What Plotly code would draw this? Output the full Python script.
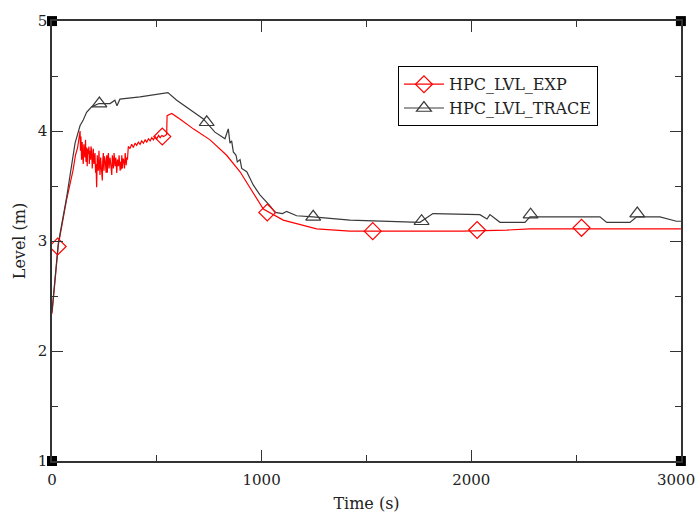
import plotly.graph_objects as go

# ---- data ----
trace_x = [0, 30, 70, 102, 110, 134, 149, 165, 189, 224, 277, 300, 310, 324, 420, 553,
           595, 722, 777, 809, 825, 841, 849, 857, 865, 878, 884, 897, 905, 929, 960, 992,
           1040, 1064, 1100, 1119, 1167, 1245, 1421, 1755, 1817, 2041, 2075, 2089, 2137,
           2256, 2280, 2614, 2646, 2757, 2789, 2900, 2979, 3000]
trace_y = [2.36, 2.98, 3.40, 3.78, 3.89, 4.05, 4.10, 4.17, 4.22, 4.25, 4.25, 4.28, 4.23, 4.29, 4.31, 4.35,
           4.28, 4.11, 3.99, 3.95, 3.93, 4.02, 3.89, 3.91, 3.81, 3.78, 3.72, 3.74, 3.66, 3.63, 3.51, 3.42,
           3.32, 3.26, 3.25, 3.27, 3.23, 3.22, 3.19, 3.17, 3.25, 3.24, 3.20, 3.24, 3.17,
           3.17, 3.22, 3.22, 3.17, 3.17, 3.22, 3.22, 3.18, 3.18]
trace_mx = [226, 738, 1246, 1763, 2283, 2792]
trace_my = [4.25, 4.08, 3.22, 3.18, 3.24, 3.25]

exp_x = [0, 30, 70, 100, 112, 122, 134,
         136, 138, 141, 144, 146, 149, 152, 154, 157, 160, 162, 165, 168, 170, 173, 176, 178, 181,
         184, 186, 189, 192, 194, 197, 200, 202, 205, 208, 210, 213, 216, 218, 221, 224, 226, 229,
         232, 234, 237, 240, 242, 245, 248, 250, 253, 256, 258, 261, 264, 266, 269, 272, 274, 277,
         280, 282, 285, 288, 290, 293, 296, 298, 301, 304, 306, 309, 312, 314, 317, 320, 322, 325,
         328, 330, 333, 336, 338, 341, 344, 346, 349, 352, 354, 357, 360,
         364, 372, 380, 388, 396, 404, 412, 420, 428, 436, 444, 452, 460, 468, 476, 484,
         492, 500, 508, 516, 524, 532, 540, 547, 549, 571,
         610, 674, 754, 833, 897, 936, 976, 1008, 1103, 1262, 1421, 1700, 1960, 2169,
         2280, 2600, 3000]
exp_y = [2.34, 2.96, 3.38, 3.64, 3.78, 3.85, 4.00,
         3.82, 3.95, 3.74, 3.90, 3.78, 3.70, 3.88, 3.80, 3.76, 3.92, 3.72, 3.85, 3.68, 3.84, 3.79, 3.86, 3.70, 3.82,
         3.74, 3.86, 3.82, 3.66, 3.78, 3.84, 3.70, 3.77, 3.80, 3.62, 3.70, 3.49, 3.78, 3.66, 3.64, 3.82, 3.71, 3.60,
         3.76, 3.69, 3.66, 3.55, 3.73, 3.80, 3.64, 3.77, 3.74, 3.68, 3.62, 3.78, 3.62, 3.75, 3.80, 3.66, 3.71, 3.76,
         3.70, 3.64, 3.60, 3.78, 3.70, 3.66, 3.80, 3.69, 3.68, 3.76, 3.63, 3.62, 3.74, 3.70, 3.68, 3.78, 3.71, 3.64,
         3.72, 3.65, 3.78, 3.66, 3.75, 3.74, 3.70, 3.66, 3.80, 3.72, 3.69, 3.76, 3.74,
         3.86, 3.84, 3.88, 3.85, 3.89, 3.87, 3.90, 3.88, 3.91, 3.89, 3.92, 3.90, 3.93, 3.91, 3.94, 3.92,
         3.95, 3.93, 3.96, 3.94, 3.96, 3.95, 3.96, 3.97, 4.14, 4.16,
         4.11, 4.02, 3.92, 3.78, 3.63, 3.51, 3.39, 3.29, 3.19, 3.11, 3.09, 3.09, 3.09, 3.10,
         3.11, 3.11, 3.11]
exp_mx = [27, 526, 1027, 1530, 2028, 2526]
exp_my = [2.95, 3.95, 3.26, 3.09, 3.10, 3.12]

x_ticks = [0, 1000, 2000]
x_last_tick = 3000
corner_x = [0, 3000, 0, 3000]
corner_y = [1, 1, 5, 5]

RED = "#ff0000"
DARK = "#3a3a3a"
FONT = "DejaVu Serif"

fig = go.Figure()
fig.add_trace(go.Scatter(x=exp_x, y=exp_y, mode="lines", line=dict(color=RED, width=1.2),
                         showlegend=False, hoverinfo="skip"))
fig.add_trace(go.Scatter(x=trace_x, y=trace_y, mode="lines", line=dict(color=DARK, width=1.2),
                         showlegend=False, hoverinfo="skip"))
fig.add_trace(go.Scatter(x=exp_mx, y=exp_my, mode="markers",
                         marker=dict(symbol="diamond-open", size=13, color=RED, line=dict(width=1.2)),
                         showlegend=False))
fig.add_trace(go.Scatter(x=trace_mx, y=trace_my, mode="markers",
                         marker=dict(symbol="triangle-up-open", size=13, color=DARK, line=dict(width=1.2)),
                         showlegend=False))
# legend entries
fig.add_trace(go.Scatter(x=[None], y=[None], mode="lines+markers", name="HPC_LVL_EXP",
                         line=dict(color=RED, width=1.2),
                         marker=dict(symbol="diamond-open", size=13, color=RED, line=dict(width=1.2))))
fig.add_trace(go.Scatter(x=[None], y=[None], mode="lines+markers", name="HPC_LVL_TRACE",
                         line=dict(color=DARK, width=1.2),
                         marker=dict(symbol="triangle-up-open", size=13, color=DARK, line=dict(width=1.2))))
fig.add_trace(go.Scatter(x=corner_x, y=corner_y, mode="markers",
                         marker=dict(symbol="square", size=10, color="black"),
                         showlegend=False, cliponaxis=False, hoverinfo="skip"))

axis_common = dict(showline=True, linecolor="#333333", linewidth=1.5, mirror="allticks",
                   ticks="inside", ticklen=11, tickwidth=1, tickcolor="#333333",
                   showgrid=False, zeroline=False, automargin=False,
                   tickfont=dict(family=FONT, size=15, color="#222222"))

fig.update_layout(
    width=698, height=513,
    margin=dict(l=52, r=17, t=21, b=52),
    paper_bgcolor="white", plot_bgcolor="white",
    font=dict(family=FONT, size=15, color="#222222"),
    xaxis=dict(range=[0, 3000.5], tickvals=x_ticks,
               minor=dict(tickvals=[500, 1500, 2500], ticks="inside", ticklen=6, tickcolor="#333333"),
               title=dict(text="Time (s)", font=dict(family=FONT, size=16), standoff=12),
               ticklabelstandoff=4,
               **axis_common),
    yaxis=dict(range=[1, 5.0007], tickvals=[1, 2, 3, 4, 5],
               minor=dict(tickvals=[1.5, 2.5, 3.5, 4.5], ticks="inside", ticklen=6, tickcolor="#333333"),
               title=dict(text="Level (m)", font=dict(family=FONT, size=16), standoff=8),
               **axis_common),
    legend=dict(x=0.55, y=0.897, xanchor="left", yanchor="top",
                bgcolor="white", bordercolor="black", borderwidth=1,
                font=dict(family=FONT, size=16, color="#222222"),
                itemwidth=40, tracegroupgap=4),
    annotations=[dict(x=x_last_tick, y=0, xref="x", yref="paper", text=str(x_last_tick),
                      showarrow=False, xanchor="center", yanchor="top", xshift=-5, yshift=-8,
                      font=dict(family=FONT, size=15, color="#222222"))],
)

fig.write_html("out.html", config={"displayModeBar": False},
               post_script="document.body.style.margin='0';document.body.style.overflow='hidden';")
